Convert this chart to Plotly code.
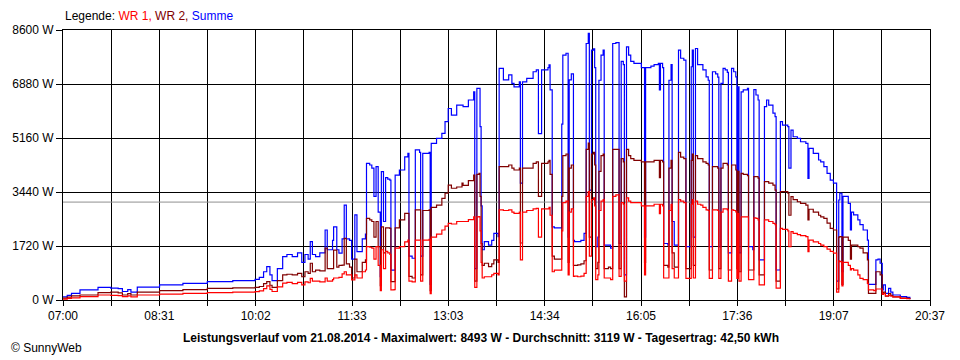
import plotly.graph_objects as go

# ---- data ----
times = [
    "07:00", "07:04", "07:08", "07:16", "07:33", "07:45", "07:52", "07:56", "08:01", "08:04",
    "08:10", "08:31", "08:53", "09:16", "09:40", "10:01", "10:05", "10:09", "10:12", "10:15",
    "10:17", "10:22", "10:27", "10:31", "10:36", "10:41", "10:45", "10:48", "10:51", "10:53",
    "10:55", "10:58", "11:02", "11:07", "11:09", "11:14", "11:15", "11:18", "11:20", "11:23",
    "11:25", "11:27", "11:30", "11:32", "11:35", "11:37", "11:42", "11:45", "11:46", "11:49",
    "11:51", "11:53", "11:55", "11:57", "11:59", "12:00", "12:02", "12:04", "12:06", "12:08",
    "12:09", "12:12", "12:13", "12:17", "12:22", "12:25", "12:26", "12:29", "12:32", "12:36",
    "12:37", "12:39", "12:45", "12:46", "12:47", "12:52", "12:57", "13:00", "13:03", "13:06",
    "13:11", "13:16", "13:17", "13:22", "13:27", "13:28", "13:30", "13:32", "13:33", "13:34",
    "13:35", "13:37", "13:41", "13:44", "13:46", "13:50", "13:51", "13:55", "14:00", "14:03",
    "14:05", "14:10", "14:11", "14:13", "14:17", "14:23", "14:26", "14:28", "14:31", "14:37",
    "14:38", "14:39", "14:41", "14:43", "14:47", "14:50", "14:51", "14:54", "14:56", "14:57",
    "14:59", "15:01", "15:02", "15:05", "15:08", "15:11", "15:13", "15:15", "15:16", "15:18",
    "15:20", "15:21", "15:22", "15:24", "15:25", "15:27", "15:29", "15:30", "15:34", "15:36",
    "15:38", "15:41", "15:44", "15:46", "15:48", "15:49", "15:51", "15:53", "15:55", "15:58",
    "16:05", "16:08", "16:09", "16:14", "16:17", "16:21", "16:22", "16:23", "16:25", "16:26",
    "16:30", "16:31", "16:33", "16:34", "16:36", "16:38", "16:40", "16:42", "16:45", "16:47",
    "16:50", "16:52", "16:53", "16:54", "16:56", "16:58", "17:01", "17:03", "17:06", "17:08",
    "17:09", "17:10", "17:12", "17:15", "17:17", "17:18", "17:20", "17:22", "17:24", "17:26",
    "17:27", "17:29", "17:30", "17:32", "17:34", "17:35", "17:36", "17:37", "17:39", "17:41",
    "17:45", "17:46", "17:50", "17:51", "17:53", "17:55", "17:56", "17:59", "18:01", "18:03",
    "18:05", "18:09", "18:11", "18:12", "18:14", "18:16", "18:18", "18:23", "18:24", "18:26",
    "18:28", "18:32", "18:35", "18:40", "18:42", "18:43", "18:47", "18:52", "18:54", "18:57",
    "19:00", "19:03", "19:06", "19:09", "19:11", "19:12", "19:14", "19:15", "19:20", "19:22",
    "19:23", "19:25", "19:29", "19:31", "19:34", "19:38", "19:39", "19:44", "19:46", "19:48",
    "19:50", "19:52", "19:53", "19:55", "19:58", "20:00", "20:02", "20:09", "20:15", "20:18",
]

summe = [
    100, 150, 210, 320, 400, 380, 360, 270, 330, 250,
    410, 480, 530, 585, 620, 660, 720, 900, 1060, 800,
    620, 1000, 1380, 1450, 1380, 1500, 1200, 1450, 1300, 1860,
    1450, 1380, 1500, 2230, 1600, 1900, 2330, 1600, 1490, 1950,
    3025, 1950, 1900, 1300, 2710, 1540, 1950, 2100, 4350, 4300,
    4200, 3300, 4250, 2800, 740, 4090, 2500, 3900, 3850, 3820,
    950, 950, 3980, 4140, 4560, 4670, 1400, 1330, 4780, 4700,
    1400, 4670, 4700, 500, 4990, 5150, 5310, 5680, 6100, 5890,
    6210, 6210, 6160, 6370, 6630, 1000, 6740, 6740, 5520, 3000,
    1600, 1860, 1750, 1900, 2120, 2020, 7380, 7010, 7170, 6900,
    6790, 6950, 3720, 6950, 7060, 7270, 7330, 5300, 7330, 7400,
    7490, 6690, 2330, 2300, 2300, 5600, 7800, 7860, 2000, 7010,
    7200, 1900, 1860, 1860, 1900, 2120, 8170, 8490, 3500, 7960,
    8000, 7400, 1700, 2000, 7000, 7800, 7960, 1750, 1750, 1650,
    8170, 8200, 1800, 7600, 7500, 800, 8060, 7800, 7600, 7540,
    7400, 2000, 7400, 7450, 7500, 7540, 6690, 7540, 7400, 1800,
    1750, 7000, 7500, 2500, 1750, 1750, 7960, 7700, 7640, 1700,
    1700, 7430, 7960, 2000, 8010, 7500, 7500, 7330, 7110, 7000,
    1700, 1700, 7270, 7200, 7100, 1700, 6900, 7380, 7330, 7250,
    1500, 1500, 7380, 7270, 7110, 1700, 6790, 1500, 6630, 6690,
    6740, 1700, 1600, 6700, 6530, 6370, 1275, 1275, 6160, 6370,
    6210, 5950, 5840, 955, 955, 5680, 5570, 5520, 4200, 5410,
    5200, 5150, 5040, 4990, 3870, 4830, 4670, 4460, 4400, 4250,
    4035, 3820, 3720, 600, 3185, 3400, 900, 3300, 3080, 2230,
    2800, 2710, 2550, 2400, 2230, 1910, 500, 500, 1275, 1300,
    1170, 320, 480, 210, 370, 250, 160, 105, 85, 30,
]

wr2 = [
    60, 90, 130, 160, 235, 250, 230, 160, 200, 160,
    250, 300, 330, 370, 385, 400, 430, 520, 585, 470,
    400, 620, 800, 820, 800, 850, 740, 900, 850, 1170,
    900, 950, 930, 1650, 1000, 1000, 1590, 1050, 1100, 1110,
    1965, 1150, 1050, 700, 1300, 900, 1200, 1275, 2600, 2550,
    2500, 2000, 2500, 1700, 460, 2330, 1500, 2300, 2300, 2280,
    585, 585, 2300, 2550, 2760, 2760, 750, 700, 2870, 2870,
    800, 2850, 2870, 300, 2950, 3025, 3240, 3400, 3660, 3560,
    3600, 3720, 3650, 3800, 3980, 600, 4000, 4035, 3300, 1800,
    1100, 1170, 1060, 1150, 1275, 1200, 4250, 4250, 4300, 4200,
    4140, 4200, 1815, 4200, 4200, 4350, 4400, 3300, 4350, 4400,
    4450, 4000, 1400, 1300, 1300, 3300, 4600, 4650, 1200, 4200,
    4300, 1100, 1100, 1120, 1150, 1250, 4800, 5000, 2000, 4650,
    4700, 4300, 1000, 1200, 4100, 4600, 4650, 1000, 1050, 1000,
    4800, 4800, 1000, 4500, 4400, 100, 4800, 4600, 4500, 4450,
    4400, 1200, 4400, 4400, 4450, 4450, 3900, 4450, 4400, 1100,
    1050, 4200, 4450, 1500, 1050, 1050, 4700, 4550, 4500, 1000,
    1000, 4450, 4650, 1100, 4600, 4500, 4500, 4400, 4350, 4300,
    955, 955, 4250, 4250, 4200, 1000, 4200, 4350, 4350, 4300,
    955, 955, 4300, 4300, 4140, 1000, 4100, 900, 4035, 4000,
    3960, 955, 955, 3930, 3930, 3880, 800, 800, 3770, 3770,
    3720, 3660, 3500, 600, 600, 3450, 3450, 3400, 2700, 3290,
    3200, 3130, 3080, 3025, 2550, 2890, 2800, 2700, 2650, 2600,
    2450, 2280, 2230, 350, 2000, 2020, 500, 2000, 1900, 1300,
    1750, 1750, 1700, 1650, 1500, 1275, 210, 210, 900, 900,
    800, 180, 250, 120, 200, 150, 100, 60, 50, 20,
]

wr1 = [
    30, 50, 70, 105, 160, 150, 140, 110, 130, 100,
    160, 190, 210, 235, 250, 265, 290, 360, 450, 340,
    270, 420, 540, 560, 520, 560, 480, 580, 550, 690,
    600, 600, 580, 700, 600, 650, 700, 700, 720, 830,
    900, 800, 800, 640, 800, 700, 900, 955, 1700, 1680,
    1650, 1300, 1700, 1100, 300, 1600, 1000, 1550, 1500, 1450,
    320, 330, 1650, 1700, 1850, 1910, 600, 580, 1910, 1910,
    600, 1910, 1930, 200, 2000, 2100, 2230, 2350, 2440, 2420,
    2500, 2500, 2500, 2560, 2650, 400, 2650, 2660, 2200, 1200,
    700, 740, 740, 800, 850, 800, 2870, 2850, 2870, 2800,
    2760, 2800, 1275, 2800, 2850, 2900, 2920, 2000, 2900, 2900,
    2950, 2700, 900, 950, 950, 2200, 3100, 3150, 800, 2800,
    2900, 750, 760, 740, 760, 850, 3300, 3450, 1400, 3200,
    3250, 3000, 650, 800, 2850, 3150, 3200, 700, 700, 650,
    3300, 3350, 750, 3100, 3050, 600, 3250, 3150, 3100, 3100,
    3000, 800, 3000, 3000, 3050, 3050, 2750, 3050, 3000, 700,
    700, 2850, 3050, 1000, 700, 700, 3200, 3150, 3100, 690,
    690, 3050, 3200, 700, 3150, 3050, 3025, 2950, 2870, 2850,
    690, 690, 2870, 2870, 2850, 690, 2800, 2900, 2900, 2870,
    600, 600, 2870, 2850, 2810, 690, 2750, 600, 2650, 2650,
    2650, 650, 650, 2620, 2600, 2550, 480, 480, 2550, 2550,
    2500, 2440, 2400, 380, 380, 2280, 2250, 2200, 1700, 2180,
    2120, 2080, 2050, 2020, 1540, 1910, 1850, 1800, 1750, 1700,
    1620, 1550, 1490, 250, 1250, 1220, 450, 1200, 1100, 955,
    1000, 950, 800, 690, 650, 530, 320, 300, 350, 350,
    350, 180, 200, 130, 150, 120, 100, 50, 40, 20,
]

average_w = 3119
y_tick_values = [0, 1720, 3440, 5160, 6880, 8600]
y_tick_labels = ["0 W", "1720 W", "3440 W", "5160 W", "6880 W", "8600 W"]
x_tick_labels = ["07:00", "", "08:31", "", "10:02", "", "11:33", "", "13:03", "",
                 "14:34", "", "16:05", "", "17:36", "", "19:07", "", "20:37"]
x_start, x_end = "07:00", "20:37"
title_text = ("Leistungsverlauf vom 21.08.2014 - Maximalwert: 8493 W - "
              "Durchschnitt: 3119 W - Tagesertrag: 42,50 kWh")


def to_min(s):
    h, m = s.split(":")
    return int(h) * 60 + int(m)


x = [to_min(t) for t in times]
x0, x1 = to_min(x_start), to_min(x_end)
n_int = len(x_tick_labels) - 1
x_tick_vals = [x0 + i * (x1 - x0) / n_int for i in range(n_int + 1)]

FONT = "Liberation Sans"

fig = go.Figure()
fig.add_trace(go.Scatter(x=[x0, x1], y=[average_w, average_w], mode="lines",
                         line=dict(color="#909090", width=1), hoverinfo="skip"))
fig.add_trace(go.Scatter(x=x, y=summe, mode="lines", name="Summe",
                         line=dict(color="#0000FF", width=1.2, shape="hv")))
fig.add_trace(go.Scatter(x=x, y=wr2, mode="lines", name="WR 2",
                         line=dict(color="#800000", width=1.2, shape="hv")))
fig.add_trace(go.Scatter(x=x, y=wr1, mode="lines", name="WR 1",
                         line=dict(color="#FF0000", width=1.2, shape="hv")))

fig.update_layout(
    width=960, height=360,
    margin=dict(l=60, r=30, t=30, b=60),
    paper_bgcolor="white", plot_bgcolor="white",
    showlegend=False,
    font=dict(family=FONT, size=11, color="black"),
    xaxis=dict(range=[x0, x1], tickmode="array", tickvals=x_tick_vals,
               ticktext=x_tick_labels, showgrid=True, gridcolor="black",
               gridwidth=1, showline=True, linecolor="black", linewidth=1,
               mirror=True, ticks="outside", ticklen=5, tickcolor="black",
               zeroline=False, tickfont=dict(family=FONT, size=12)),
    yaxis=dict(range=[0, 8600], tickmode="array", tickvals=y_tick_values,
               ticktext=y_tick_labels, showgrid=True, gridcolor="black",
               gridwidth=1, showline=True, linecolor="black", linewidth=1,
               mirror=True, ticks="outside", ticklen=6, tickcolor="black",
               zeroline=False, tickfont=dict(family=FONT, size=12)),
    annotations=[
        dict(xref="paper", yref="paper", x=0, y=1 + 14 / 270, xanchor="left",
             yanchor="middle", showarrow=False,
             text=("Legende: <span style='color:#FF0000'>WR 1,</span> "
                   "<span style='color:#800000'>WR 2,</span> "
                   "<span style='color:#0000FF'>Summe</span>"),
             font=dict(family=FONT, size=12, color="black")),
        dict(xref="paper", yref="paper", x=(479 - 60) / 870, y=-38 / 270,
             xanchor="center", yanchor="middle", showarrow=False,
             text="<b>" + title_text + "</b>",
             font=dict(family=FONT, size=12, color="black")),
        dict(xref="paper", yref="paper", x=(6 - 60) / 870, y=-48 / 270,
             xanchor="left", yanchor="middle", showarrow=False,
             text="© SunnyWeb", font=dict(family=FONT, size=12, color="black")),
    ],
)

fig.write_html("out.html", config={"displayModeBar": False},
               post_script="document.body.style.margin='0';")
